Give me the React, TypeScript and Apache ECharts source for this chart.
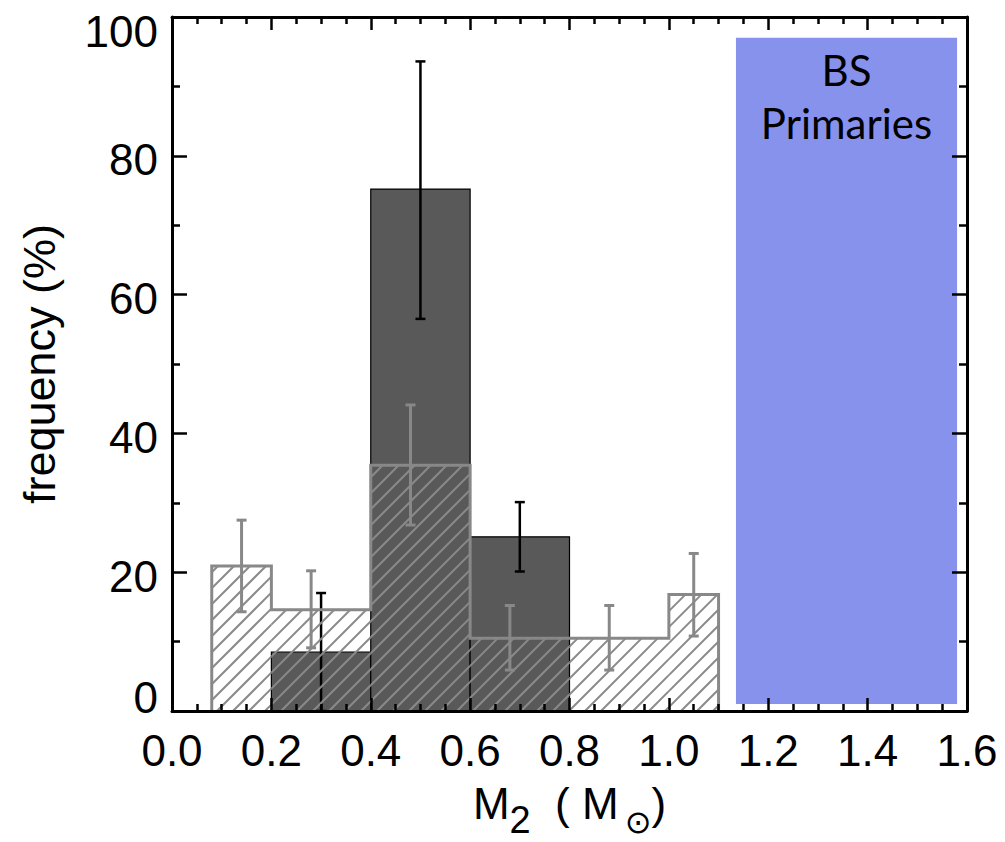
import React, { useEffect, useRef } from "react";
import * as echarts from "echarts";

// ---- data ----
const xMin = 0;
const xMax = 1.6;
const xStep = 0.2;
const yMin = 0;
const yMax = 100;
const yStep = 20;

// dark filled histogram (bins start/end, frequency %)
const darkBinStart = [0.2, 0.4, 0.6];
const darkBinEnd = [0.4, 0.6, 0.8];
const darkFreq = [8.5, 75.2, 25.1];
const darkErrX = [0.3, 0.5, 0.7];
const darkErrLow = [0, 56.5, 20.1];
const darkErrHigh = [17, 93.6, 30.1];

// hatched histogram (bin edges, frequency %)
const hatchEdges = [0.08, 0.2, 0.4, 0.6, 0.8, 1.0, 1.1];
const hatchFreq = [20.9, 14.6, 35.4, 10.5, 10.5, 16.8];
const hatchErrX = [0.14, 0.28, 0.48, 0.68, 0.88, 1.05];
const hatchErrLow = [14.3, 9.1, 26.8, 5.9, 5.9, 10.8];
const hatchErrHigh = [27.5, 20.2, 44.1, 15.2, 15.2, 22.7];

// BS primaries band
const bsMass = [1.135, 1.58];
const bsFreq = [1, 97];
const bsLabel = "BS\nPrimaries";

const FONT = "'Liberation Sans', Arial, Helvetica, sans-serif";

export default function App() {
  const ref = useRef<HTMLDivElement>(null);
  useEffect(() => {
    document.body.style.margin = "0";
    const chart = echarts.init(ref.current!, null, { renderer: "svg" });

    const axisCommon = {
      type: "value" as const,
      z: 10,
      splitLine: { show: false },
      minorSplitLine: { show: false },
      axisLine: { show: true, onZero: false, lineStyle: { color: "#000", width: 3 } },
    };

    const hatchOutline: number[][] = [[hatchEdges[0], 0]];
    hatchFreq.forEach((v, i) => {
      hatchOutline.push([hatchEdges[i], v]);
      hatchOutline.push([hatchEdges[i + 1], v]);
    });
    hatchOutline.push([hatchEdges[hatchEdges.length - 1], 0]);

    const errRender = (color: string, width: number) => (params: any, api: any) => {
      const top = api.coord([api.value(0), api.value(2)]);
      const bot = api.coord([api.value(0), api.value(1)]);
      const hw = 5;
      const st = { stroke: color, lineWidth: width };
      return {
        type: "group",
        children: [
          { type: "line", shape: { x1: top[0], y1: top[1], x2: bot[0], y2: bot[1] }, style: st },
          { type: "line", shape: { x1: top[0] - hw, y1: top[1], x2: top[0] + hw, y2: top[1] }, style: st },
          { type: "line", shape: { x1: bot[0] - hw, y1: bot[1], x2: bot[0] + hw, y2: bot[1] }, style: st },
        ],
      };
    };

    const option: any = {
      animation: false,
      backgroundColor: "#fff",
      grid: { left: 172, right: 38, top: 17, bottom: 131, containLabel: false, outerBoundsMode: "none" },
      xAxis: [
        {
          ...axisCommon,
          position: "bottom",
          min: xMin,
          max: xMax,
          interval: xStep,
          axisTick: { show: true, inside: true, length: 13, lineStyle: { color: "#000", width: 2.5 } },
          minorTick: { show: true, splitNumber: 4, length: 7, lineStyle: { color: "#000", width: 2.5 } },
          axisLabel: {
            show: true,
            margin: 17,
            color: "#000",
            fontSize: 44,
            fontFamily: FONT,
            formatter: (v: number) => v.toFixed(1),
          },
          name: "{m|M}{s|2}{m|  ( M}{o|⊙}{m|)}",
          nameLocation: "middle",
          nameGap: 41,
          nameTextStyle: {
            color: "#000",
            fontSize: 44,
            fontFamily: FONT,
            rich: {
              m: { fontSize: 44, lineHeight: 102, fontFamily: FONT, color: "#000" },
              s: { fontSize: 38, fontFamily: FONT, color: "#000", padding: [34, 0, 0, 0] },
              o: { fontSize: 32, fontFamily: "'DejaVu Sans', sans-serif", color: "#000", padding: [38, 0, 0, 6] },
            },
          },
        },
        {
          ...axisCommon,
          position: "top",
          min: xMin,
          max: xMax,
          interval: xStep,
          axisTick: { show: true, inside: true, length: 13, lineStyle: { color: "#000", width: 2.5 } },
          minorTick: { show: true, splitNumber: 4, length: 7, lineStyle: { color: "#000", width: 2.5 } },
          axisLabel: { show: false },
        },
      ],
      yAxis: [
        {
          ...axisCommon,
          position: "left",
          min: yMin,
          max: yMax,
          interval: yStep,
          axisTick: { show: true, inside: true, length: 15, lineStyle: { color: "#000", width: 2.5 } },
          minorTick: { show: true, splitNumber: 2, length: 8, lineStyle: { color: "#000", width: 2.5 } },
          axisLabel: {
            show: true,
            margin: 14,
            color: "#000",
            fontSize: 44,
            fontFamily: FONT,
            formatter: (v: number) =>
              v === yMax ? `{t|${v}}` : v === yMin ? `{b|${v}}` : `{n|${v}}`,
            rich: {
              n: { fontSize: 44, fontFamily: FONT, color: "#000", padding: [8, 0, 0, 0] },
              t: { fontSize: 44, fontFamily: FONT, color: "#000", padding: [28, 0, 0, 0] },
              b: { fontSize: 44, fontFamily: FONT, color: "#000", padding: [0, 0, 28, 0] },
            },
          },
          name: "frequency (%)",
          nameLocation: "middle",
          nameRotate: 90,
          nameGap: 110,
          nameTextStyle: { color: "#000", fontSize: 45, fontFamily: FONT },
        },
        {
          ...axisCommon,
          position: "right",
          min: yMin,
          max: yMax,
          interval: yStep,
          axisTick: { show: true, inside: true, length: 15, lineStyle: { color: "#000", width: 2.5 } },
          minorTick: { show: true, splitNumber: 2, length: 8, lineStyle: { color: "#000", width: 2.5 } },
          axisLabel: { show: false },
        },
      ],
      series: [
        {
          type: "custom",
          name: "BS primaries",
          z: 1,
          xAxisIndex: 0,
          yAxisIndex: 0,
          data: [[bsMass[0], bsMass[1], bsFreq[0], bsFreq[1]]],
          encode: { x: [0, 1], y: [2, 3] },
          renderItem: (params: any, api: any) => {
            const a = api.coord([api.value(0), api.value(3)]);
            const b = api.coord([api.value(1), api.value(2)]);
            return {
              type: "group",
              children: [
                {
                  type: "rect",
                  shape: { x: a[0], y: a[1], width: b[0] - a[0], height: b[1] - a[1] },
                  style: { fill: "#8792ED" },
                },
                {
                  type: "text",
                  x: (a[0] + b[0]) / 2,
                  y: a[1] + 6,
                  style: {
                    text: bsLabel,
                    fill: "#000",
                    fontSize: 42,
                    fontFamily: "Lato, 'Open Sans', sans-serif",
                    lineHeight: 53,
                    align: "center",
                    textAlign: "center",
                    verticalAlign: "top",
                    textVerticalAlign: "top",
                  },
                },
              ],
            };
          },
        },
        {
          type: "custom",
          name: "dark",
          z: 2,
          data: darkFreq.map((v, i) => [darkBinStart[i], darkBinEnd[i], v]),
          encode: { x: [0, 1], y: 2 },
          renderItem: (params: any, api: any) => {
            const a = api.coord([api.value(0), api.value(2)]);
            const b = api.coord([api.value(1), 0]);
            return {
              type: "rect",
              shape: { x: a[0], y: a[1], width: b[0] - a[0], height: b[1] - a[1] },
              style: { fill: "#595959", stroke: "#000", lineWidth: 1.2 },
            };
          },
        },
        {
          type: "custom",
          name: "dark err",
          z: 3,
          data: darkErrX.map((x, i) => [x, darkErrLow[i], darkErrHigh[i]]),
          encode: { x: 0, y: [1, 2] },
          renderItem: errRender("#000", 2.5),
        },
        {
          type: "custom",
          name: "hatch",
          z: 4,
          data: hatchFreq.map((v, i) => [hatchEdges[i], hatchEdges[i + 1], v]),
          encode: { x: [0, 1], y: 2 },
          renderItem: (params: any, api: any) => {
            const a = api.coord([api.value(0), api.value(2)]);
            const b = api.coord([api.value(1), 0]);
            const x0 = a[0], y0 = a[1], x1 = b[0], y1 = b[1];
            const sp = 16;
            const children: any[] = [];
            for (let c = Math.ceil((x0 + y0) / sp) * sp; c <= x1 + y1; c += sp) {
              const xa = Math.max(x0, c - y1);
              const xb = Math.min(x1, c - y0);
              if (xb <= xa) continue;
              children.push({
                type: "line",
                shape: { x1: xa, y1: c - xa, x2: xb, y2: c - xb },
                style: { stroke: "#8a8a8a", lineWidth: 2 },
              });
            }
            return { type: "group", children };
          },
        },
        {
          type: "line",
          name: "hatch outline",
          z: 5,
          data: hatchOutline,
          showSymbol: false,
          symbol: "none",
          lineStyle: { color: "#888", width: 3, join: "miter" },
        },
        {
          type: "custom",
          name: "hatch err",
          z: 6,
          data: hatchErrX.map((x, i) => [x, hatchErrLow[i], hatchErrHigh[i]]),
          encode: { x: 0, y: [1, 2] },
          renderItem: errRender("#888", 3),
        },
      ],
    };
    chart.setOption(option);
    return () => chart.dispose();
  }, []);
  return (
    <div
      ref={ref}
      style={{ position: "absolute", left: 0, top: 0, width: 1005, height: 842 }}
    />
  );
}
